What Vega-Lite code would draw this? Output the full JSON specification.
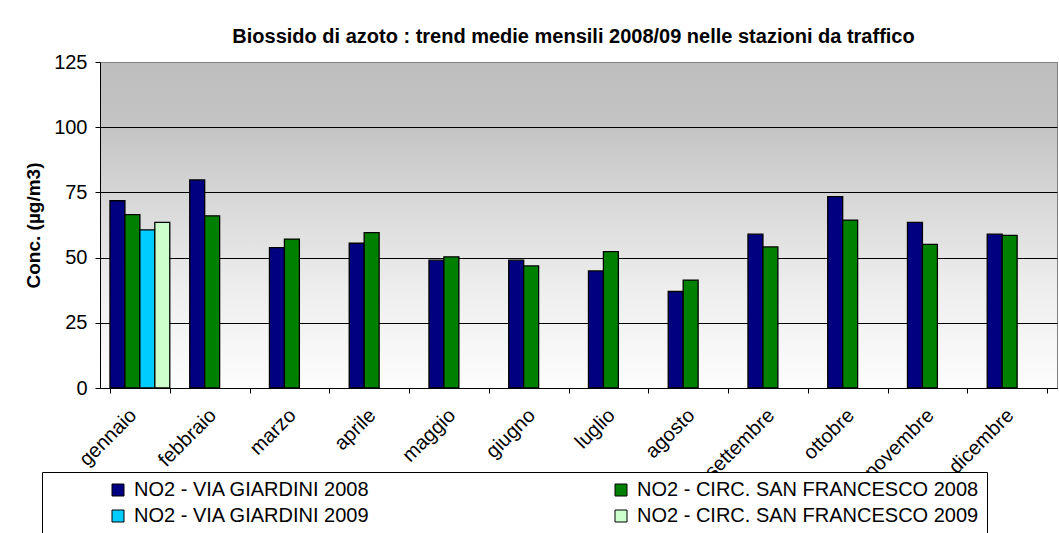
{
  "$schema": "https://vega.github.io/schema/vega-lite/v6.json",
  "width": 957,
  "height": 326,
  "autosize": {"type": "none"},
  "padding": {"left": 100, "top": 62, "right": 2, "bottom": 145},
  "background": "white",
  "title": {
    "text": "Biossido di azoto : trend medie mensili 2008/09 nelle stazioni da traffico",
    "font": "Liberation Sans",
    "fontSize": 20,
    "fontWeight": "bold",
    "color": "black",
    "anchor": "middle",
    "offset": 5,
    "dx": -5
  },
  "data": {
    "values": [
      {"mese": "gennaio", "serie": "NO2 - VIA GIARDINI 2008", "valore": 71.8},
      {"mese": "gennaio", "serie": "NO2 - CIRC. SAN FRANCESCO 2008", "valore": 66.5},
      {"mese": "gennaio", "serie": "NO2 - VIA GIARDINI 2009", "valore": 60.6},
      {"mese": "gennaio", "serie": "NO2 - CIRC. SAN FRANCESCO 2009", "valore": 63.5},
      {"mese": "febbraio", "serie": "NO2 - VIA GIARDINI 2008", "valore": 79.8},
      {"mese": "febbraio", "serie": "NO2 - CIRC. SAN FRANCESCO 2008", "valore": 66.0},
      {"mese": "marzo", "serie": "NO2 - VIA GIARDINI 2008", "valore": 53.8},
      {"mese": "marzo", "serie": "NO2 - CIRC. SAN FRANCESCO 2008", "valore": 57.1},
      {"mese": "aprile", "serie": "NO2 - VIA GIARDINI 2008", "valore": 55.5},
      {"mese": "aprile", "serie": "NO2 - CIRC. SAN FRANCESCO 2008", "valore": 59.6},
      {"mese": "maggio", "serie": "NO2 - VIA GIARDINI 2008", "valore": 49.0},
      {"mese": "maggio", "serie": "NO2 - CIRC. SAN FRANCESCO 2008", "valore": 50.3},
      {"mese": "giugno", "serie": "NO2 - VIA GIARDINI 2008", "valore": 49.0},
      {"mese": "giugno", "serie": "NO2 - CIRC. SAN FRANCESCO 2008", "valore": 46.8},
      {"mese": "luglio", "serie": "NO2 - VIA GIARDINI 2008", "valore": 44.9},
      {"mese": "luglio", "serie": "NO2 - CIRC. SAN FRANCESCO 2008", "valore": 52.3},
      {"mese": "agosto", "serie": "NO2 - VIA GIARDINI 2008", "valore": 37.0},
      {"mese": "agosto", "serie": "NO2 - CIRC. SAN FRANCESCO 2008", "valore": 41.4},
      {"mese": "settembre", "serie": "NO2 - VIA GIARDINI 2008", "valore": 59.0},
      {"mese": "settembre", "serie": "NO2 - CIRC. SAN FRANCESCO 2008", "valore": 54.1},
      {"mese": "ottobre", "serie": "NO2 - VIA GIARDINI 2008", "valore": 73.4},
      {"mese": "ottobre", "serie": "NO2 - CIRC. SAN FRANCESCO 2008", "valore": 64.4},
      {"mese": "novembre", "serie": "NO2 - VIA GIARDINI 2008", "valore": 63.5},
      {"mese": "novembre", "serie": "NO2 - CIRC. SAN FRANCESCO 2008", "valore": 55.1},
      {"mese": "dicembre", "serie": "NO2 - VIA GIARDINI 2008", "valore": 59.0},
      {"mese": "dicembre", "serie": "NO2 - CIRC. SAN FRANCESCO 2008", "valore": 58.5}
    ]
  },
  "mark": {"type": "bar", "stroke": "black", "strokeWidth": 1.3},
  "encoding": {
    "x": {
      "field": "mese",
      "type": "nominal",
      "sort": ["gennaio", "febbraio", "marzo", "aprile", "maggio", "giugno", "luglio", "agosto", "settembre", "ottobre", "novembre", "dicembre"],
      "scale": {"paddingInner": 0.25, "paddingOuter": 0.125},
      "axis": {
        "title": null,
        "labelAngle": -45,
        "labelAlign": "right",
        "labelBaseline": "bottom",
        "labelFont": "Liberation Sans",
        "labelFontSize": 20,
        "labelColor": "black",
        "labelPadding": 26,
        "labelOverlap": false,
        "labelBound": false,
        "tickBand": "extent",
        "tickColor": "black",
        "tickSize": 5,
        "domainColor": "black",
        "grid": false
      }
    },
    "xOffset": {
      "field": "serie",
      "type": "nominal",
      "sort": ["NO2 - VIA GIARDINI 2008", "NO2 - CIRC. SAN FRANCESCO 2008", "NO2 - VIA GIARDINI 2009", "NO2 - CIRC. SAN FRANCESCO 2009"],
      "scale": {"paddingInner": 0, "paddingOuter": 0}
    },
    "y": {
      "field": "valore",
      "type": "quantitative",
      "scale": {"domain": [0, 125], "nice": false},
      "axis": {
        "title": "Conc. (µg/m3)",
        "titleFont": "Liberation Sans",
        "titleFontSize": 19,
        "titleFontWeight": "bold",
        "titleColor": "black",
        "titlePadding": 10,
        "values": [0, 25, 50, 75, 100, 125],
        "labelFont": "Liberation Sans",
        "labelFontSize": 20,
        "labelColor": "black",
        "labelPadding": 8,
        "tickColor": "black",
        "tickSize": 5,
        "domainColor": "black",
        "grid": true,
        "gridColor": {"condition": {"test": "datum.value == 125", "value": "#808080"}, "value": "black"},
        "gridWidth": 1,
        "gridOpacity": 1
      }
    },
    "color": {
      "field": "serie",
      "type": "nominal",
      "scale": {
        "domain": ["NO2 - VIA GIARDINI 2008", "NO2 - VIA GIARDINI 2009", "NO2 - CIRC. SAN FRANCESCO 2008", "NO2 - CIRC. SAN FRANCESCO 2009"],
        "range": ["#000080", "#00CCFF", "#008000", "#CCFFCC"]
      },
      "legend": {
        "title": null,
        "orient": "none",
        "legendX": -58,
        "legendY": 410,
        "columns": 2,
        "direction": "vertical",
        "strokeColor": "black",
        "fillColor": "white",
        "padding": 8,
        "symbolType": "square",
        "symbolSize": 144,
        "symbolStrokeColor": "black",
        "symbolStrokeWidth": 1,
        "symbolOpacity": 1,
        "symbolOffset": 58,
        "labelFont": "Liberation Sans",
        "labelFontSize": 20,
        "labelColor": "black",
        "labelLimit": 600,
        "labelOffset": 6,
        "columnPadding": 183,
        "rowPadding": 6
      }
    }
  },
  "config": {
    "view": {
      "stroke": "#808080",
      "fill": {
        "gradient": "linear",
        "x1": 0, "y1": 0, "x2": 0, "y2": 1,
        "stops": [
          {"offset": 0, "color": "#bebebe"},
          {"offset": 0.2, "color": "#c4c4c4"},
          {"offset": 0.45, "color": "#dadada"},
          {"offset": 0.7, "color": "#eeeeee"},
          {"offset": 1, "color": "#fdfdfd"}
        ]
      }
    }
  }
}
